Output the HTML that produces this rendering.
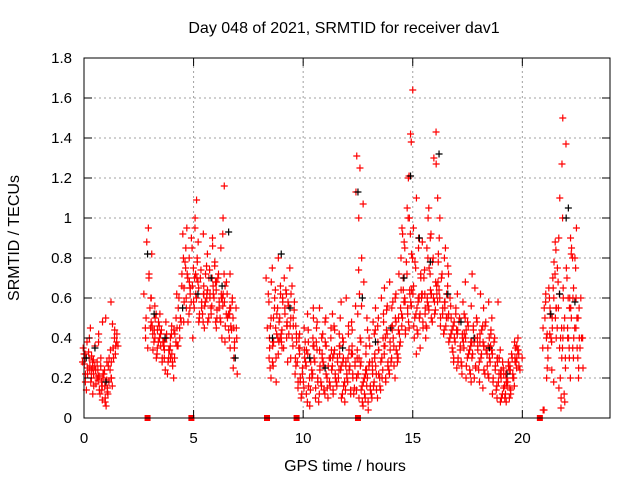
<!DOCTYPE html>
<html><head><meta charset="utf-8"><style>
body{margin:0;background:#fff;}
svg{display:block;font-family:"Liberation Sans",sans-serif;}
</style></head><body>
<svg id="chart" width="640" height="480" viewBox="0 0 640 480" xmlns="http://www.w3.org/2000/svg">
<rect width="640" height="480" fill="#fff"/>
<text x="344" y="33" font-size="16" text-anchor="middle">Day 048 of 2021, SRMTID for receiver dav1</text>
<text x="345" y="471" font-size="16" text-anchor="middle">GPS time / hours</text>
<text x="0" y="0" font-size="16" text-anchor="middle" transform="translate(19,238) rotate(-90)">SRMTID / TECUs</text>
<g id="grid"></g><g id="marks"></g><g id="axes"></g>
</svg>
<script>
const xTicks=[0,5,10,15,20];
const yTicks=[0,0.2,0.4,0.6,0.8,1,1.2,1.4,1.6,1.8];
const yTickLabels=["0","0.2","0.4","0.6","0.8","1","1.2","1.4","1.6","1.8"];
const redHours=[0.0,0.1,0.2,0.3,0.4,0.5,0.6,0.7,0.8,0.9,1.0,1.1,1.2,1.3,1.4,1.5,
2.8,2.9,3.0,3.1,3.2,3.3,3.4,3.5,3.6,3.7,3.8,3.9,4.0,4.1,4.2,4.3,4.4,4.5,4.6,4.7,
4.8,4.9,5.0,5.1,5.2,5.3,5.4,5.5,5.6,5.7,5.8,5.9,6.0,6.1,6.2,6.3,6.4,6.5,6.6,6.7,6.8,6.9,
8.4,8.5,8.6,8.7,8.8,8.9,9.0,9.1,9.2,9.3,9.4,9.5,9.6,9.7,
9.8,9.9,10.0,10.1,10.2,10.3,10.4,10.5,10.6,10.7,10.8,10.9,11.0,11.1,11.2,11.3,11.4,11.5,11.6,11.7,11.8,11.9,12.0,12.1,12.2,12.3,12.4,12.5,12.6,12.7,12.8,12.9,13.0,13.1,13.2,13.3,13.4,13.5,13.6,13.7,13.8,13.9,14.0,14.1,14.2,14.3,14.4,14.5,
14.6,14.7,14.8,14.9,15.0,15.1,15.2,15.3,15.4,15.5,15.6,15.7,15.8,15.9,16.0,16.1,16.2,16.3,16.4,16.5,16.6,16.7,16.8,16.9,
17.0,17.1,17.2,17.3,17.4,17.5,17.6,17.7,17.8,17.9,18.0,18.1,18.2,18.3,18.4,18.5,18.6,18.7,18.8,18.9,19.0,19.1,19.2,19.3,19.4,19.5,19.6,19.7,19.8,19.9,
20.9,21.0,21.1,21.2,21.3,21.4,21.5,21.6,21.7,21.8,21.9,22.0,22.1,22.2,22.3,22.4,22.5,22.6,22.7];
const redValues=[[.32,.28,.22,.35],[.30,.25,.18,.38,.27],[.26,.22,.30,.14,.45],[.24,.20,.33,.28,.40],[.22,.18,.26,.31,.12],[.25,.20,.16,.36,.29],[.21,.17,.28,.24,.42],[.19,.14,.24,.30,.38],[.18,.12,.22,.26,.09],[.16,.10,.20,.24,.14,.50,.48],[.15,.08,.19,.22,.12],[.13,.18,.06,.24,.28],[.20,.26,.16,.30],[.34,.40,.28,.47,.58],[.38,.30,.44,.35],[.36,.42,.32],
[.45,.62],[.50,.72,.88,.95,.40],[.60,.70,.45,.35,.82],[.48,.42,.55,.38],[.40,.46,.52,.34],[.44,.38,.50,.30,.56],[.42,.35,.48,.32],[.40,.36,.46,.30,.52],[.38,.44,.34,.28],[.36,.42,.30,.48],[.34,.40,.28,.24],[.30,.36,.22,.42],[.28,.34,.20,.40,.46],[.32,.38,.26,.44],[.36,.42,.50,.30],[.45,.55,.62,.40],[.50,.60,.72,.45],[.48,.58,.66,.80],[.55,.65,.75,.92,.95],[.60,.70,.78,.52,.85],
[.65,.72,.58,.48,.80],[.68,.75,.62,.90,.55],[.72,.66,.58,.85,1.0,.40],[.70,.62,.55,.78,.95,1.09],[.68,.60,.52,.80,.48],[.65,.58,.50,.74,.88],[.62,.55,.48,.70,.45],[.66,.58,.52,.76,.92],[.64,.56,.50,.72,.60],[.62,.55,.48,.70,.82],[.66,.60,.52,.74,.86],[.70,.62,.56,.78,.90],[.68,.60,.54,.76,.45],[.64,.58,.50,.72,.48],[.60,.55,.48,.70,.40],[.62,.56,.50,.72,.85],[.66,.60,.52,1.0,1.16,.92],[.58,.52,.46,.68,.38],[.55,.50,.44,.62,.35],[.52,.46,.40,.60,.72],[.50,.44,.38,.58,.30],[.45,.40,.35,.55,.25,.22],
[.35,.45,.58,.70,.25],[.40,.50,.62,.75,.30],[.38,.46,.55,.68,.28,.20],[.36,.42,.50,.60,.26,.18],[.38,.45,.52,.64,.80,.30],[.40,.48,.55,.62,.32],[.42,.50,.58,.66,.35],[.44,.52,.60,.70,.38],[.46,.55,.62,.35,.28],[.48,.56,.64,.75,.40],[.50,.58,.66,.42],[.46,.54,.62,.40,.30],[.42,.50,.58,.36,.26],[.30,.38,.22,.18,.46],
[.35,.28,.20,.15,.42],[.32,.25,.18,.12,.40],[.30,.22,.15,.10,.38],[.34,.26,.18,.08,.45],[.38,.28,.20,.12,.52],[.32,.24,.16,.06,.44],[.36,.28,.20,.14,.50],[.40,.30,.22,.15,.55],[.38,.28,.18,.10,.48],[.34,.26,.20,.12,.45],[.30,.24,.16,.08,.42,.55],[.32,.26,.18,.12,.40],[.36,.28,.20,.14,.48],[.38,.30,.22,.15,.50],[.34,.26,.18,.10,.45],[.30,.24,.16,.12,.40,.52],[.32,.26,.20,.14,.44],[.34,.28,.22,.16,.46],[.36,.30,.24,.18,.50],[.32,.26,.20,.12,.42],[.30,.24,.18,.10,.40,.58],[.28,.22,.16,.08,.38],[.34,.26,.20,.14,.46,.60],[.30,.24,.18,.12,.42],[.32,.26,.20,.14,.44],[.36,.28,.22,.15,.48,.56],[.34,.26,.20,.12,.52],[.30,1.0,1.13,1.25,1.31,.22,.14,.62],[.28,.22,.16,.10,.40,.74,.80],[.26,.20,.14,.08,.38,.68,.56,1.07],[.24,.18,.12,.06,.36],[.22,.16,.10,.04,.32,.44],[.26,.20,.14,.08,.36,.50],[.28,.22,.16,.10,.40,.48],[.32,.24,.18,.12,.44],[.30,.22,.16,.10,.42,.55],[.34,.26,.20,.14,.46],[.38,.30,.22,.16,.50,.60],[.36,.28,.20,.14,.48],[.40,.32,.24,.18,.52],[.44,.36,.28,.20,.56,.65],[.42,.34,.26,.22,.54],[.46,.38,.30,.24,.58,.68],[.44,.36,.28,.20,.55],[.48,.40,.32,.26,.60],[.50,.42,.34,.28,.62,.72],[.52,.44,.36,.30,.64],[.55,.46,.38,.64,.80,.92],
[.58,.50,.42,.70,.85,.95],[.60,.52,.44,.72,.88,1.0],[.62,.55,.45,.78,.92,1.05,1.2],[.64,.56,.48,.80,1.0,1.42,1.21],[.66,.58,.50,.82,1.64,1.38,.40],[.62,.55,.46,.78,.95,1.10],[.60,.52,.44,.75,.90,.32],[.58,.50,.42,.70,.85,.35],[.60,.52,.45,.72,.88],[.62,.55,.48,.74,.62,.40],[.58,.52,.45,.70,.80],[.60,.54,.46,.72,.85,1.0],[.62,.56,.48,.75,.90,1.05],[.64,.58,.50,.78,.92],[.66,.60,.52,.80,1.27,1.30],[.68,.62,.54,.82,1.43,1.10],[.64,.58,.50,.78,1.0],[.60,.55,.46,.72,.90],[.58,.52,.44,.70,.85],[.55,.50,.42,.66,.80],[.52,.46,.40,.62,.76],[.50,.44,.38,.60,.72],[.48,.42,.35,.56,.30],[.46,.40,.33,.55,.28],
[.44,.38,.30,.52,.62],[.42,.36,.28,.50,.25],[.40,.34,.26,.48,.58],[.42,.35,.28,.50,.22],[.44,.38,.30,.52,.68],[.40,.34,.26,.48,.20],[.38,.32,.24,.46,.56],[.36,.30,.22,.44,.18],[.38,.32,.25,.46,.65,.72],[.40,.34,.26,.48,.20],[.42,.36,.28,.50,.62],[.38,.32,.24,.46,.18],[.36,.30,.22,.44,.15],[.38,.32,.24,.46,.55],[.40,.34,.26,.48,.20],[.36,.30,.22,.44,.58],[.34,.28,.20,.42,.12],[.32,.26,.18,.40,.50],[.30,.24,.16,.38,.58],[.28,.22,.14,.34,.10],[.24,.18,.12,.30,.08],[.22,.16,.10,.28,.20],[.20,.15,.10,.25,.18],[.22,.16,.12,.26,.08],[.24,.18,.12,.28,.15],[.26,.20,.14,.30,.10],[.28,.22,.16,.32,.35],[.30,.25,.20,.34,.38],[.32,.28,.24,.36,.40],[.34,.30,.26],
[.04],[.45,.55,.35,.62],[.40,.50,.30,.58,.25],[.42,.52,.35,.60,.20],[.45,.55,.38,.65,.70],[.50,.60,.40,.72,.24],[.55,.65,.45,.78,.88,.18],[.50,.62,.40,.75,.84,.15],[.45,.55,.35,.68,.10,.90],[.40,.30,.20,.60,.05,1.0,1.1],[.45,.35,.25,.65,.08,1.27,1.37,1.50],[.50,.40,.30,.70,.12,.60],[.55,.45,.35,.75,.20],[.60,.50,.40,.80,.30,.90],[.65,.55,.45,.85,.35,.82],[.60,.50,.40,.80,.30,.95],[.55,.45,.35,.75,.25],[.50,.40,.30,.60,.20],[.40,.35,.25]];
const blackHours=[0.1,0.5,1.0,2.9,3.2,3.7,4.5,5.2,5.8,6.3,6.6,6.9,8.6,9.0,9.4,10.3,11.0,11.8,12.5,12.7,13.3,14.0,14.6,14.9,15.3,15.8,16.2,16.6,17.2,17.8,18.5,19.3,21.3,21.7,22.0,22.1,22.4];
const blackValues=[.30,.35,.18,.82,.52,.40,.55,.62,.70,.66,.93,.30,.40,.82,.55,.30,.25,.35,1.13,.60,.38,.45,.70,1.21,.90,.78,1.32,.62,.48,.40,.35,.22,.52,.62,1.0,1.05,.58];
const squareHours=[2.9,4.9,8.35,9.7,12.5,20.8];
const X0=84,X1=610,Y0=418,Y1=58,XMAX=24,YMAX=1.8;
const jitterPx=[0,-1.5,1.5,-0.8,0.8,-2,2,-1.2];
function sx(h){return X0+(X1-X0)*h/XMAX;}
function sy(v){return Y0-(Y0-Y1)*v/YMAX;}
const NS="http://www.w3.org/2000/svg";
function mk(tag,attrs,parent){const e=document.createElementNS(NS,tag);for(const k in attrs)e.setAttribute(k,attrs[k]);parent.appendChild(e);return e;}
const grid=document.getElementById('grid'),marks=document.getElementById('marks'),axes=document.getElementById('axes');
yTicks.forEach((v,i)=>{
  if(v>0&&v<YMAX){const g=mk('line',{x1:X0,x2:X1,y1:sy(v),y2:sy(v),stroke:'#a0a0a0','stroke-dasharray':'2,3'},grid);
  
  }
  const t=mk('text',{x:72,y:sy(v)+5,'font-size':'15','text-anchor':'end'},axes);t.textContent=yTickLabels[i];
  
  
  mk('line',{x1:X0,x2:X0+8,y1:sy(v),y2:sy(v),stroke:'#000'},axes);
  mk('line',{x1:X1,x2:X1-8,y1:sy(v),y2:sy(v),stroke:'#000'},axes);
});
xTicks.forEach(h=>{
  if(h>0){const g=mk('line',{x1:sx(h),x2:sx(h),y1:Y0,y2:Y1,stroke:'#a0a0a0','stroke-dasharray':'2,3'},grid);
  
  }
  const t=mk('text',{x:sx(h),y:443,'font-size':'15','text-anchor':'middle'},axes);t.textContent=String(h);
  
  
  mk('line',{x1:sx(h),x2:sx(h),y1:Y0,y2:Y0-8,stroke:'#000'},axes);
  mk('line',{x1:sx(h),x2:sx(h),y1:Y1,y2:Y1+8,stroke:'#000'},axes);
});
const frame=mk('rect',{x:X0,y:Y1,width:X1-X0,height:Y0-Y1,fill:'none',stroke:'#000'},axes);


function plus(h,v,dx,color,name){
  const x=sx(h)+dx,y=sy(v);
  const p=mk('path',{d:`M${x-3.5},${y}H${x+3.5}M${x},${y-3.5}V${y+3.5}`,stroke:color,'stroke-width':'1.2',fill:'none'},marks);
  
  
}
redHours.forEach((h,i)=>{redValues[i].forEach((v,j)=>plus(h,v,jitterPx[(i+j)%jitterPx.length],'#ff0000','srmtid-point'));});
blackHours.forEach((h,i)=>plus(h,blackValues[i],0,'#000000','srmtid-point-alt'));
redHours.forEach((h,i)=>{if(i%3===0)plus(h,redValues[i][0],1.1,'#ff0000','srmtid-point');});
squareHours.forEach(h=>{
  const r=mk('rect',{x:sx(h)-3,y:Y0-3,width:6,height:6,fill:'#ff0000'},marks);
  
  
});
</script>
</body></html>
